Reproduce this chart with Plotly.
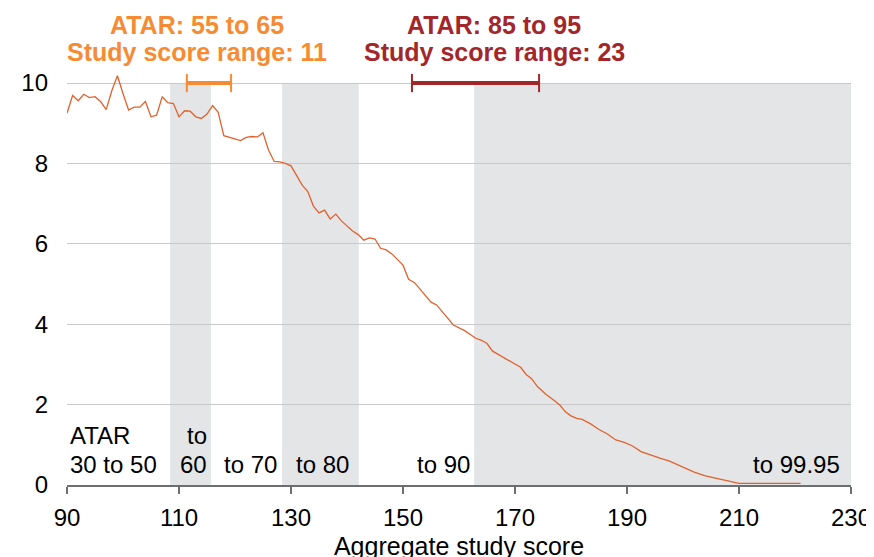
import plotly.graph_objects as go

# Aggregate study score (x) and value (y)
score = [90, 91, 92, 93, 94, 95, 96, 97, 98, 99, 100, 101, 102, 103, 104, 105, 106, 107, 108, 109,
         110, 111, 112, 113, 114, 115, 116, 117, 118, 119, 120, 121, 122, 123, 124, 125, 126, 127, 128, 129,
         130, 131, 132, 133, 134, 135, 136, 137, 138, 139, 140, 141, 142, 143, 144, 145, 146, 147, 148, 149,
         150, 151, 152, 153, 154, 155, 156, 157, 158, 159, 161, 163, 164, 165, 166, 167.5, 169.5, 171, 172, 173,
         174, 175.5, 177, 178, 179, 180, 181, 182, 183.5, 185, 186.5, 188, 189.5, 191, 192.5, 194, 196, 197.5,
         199.5, 202, 204, 205.5, 207, 209, 210, 221]
value = [9.25, 9.69, 9.56, 9.72, 9.64, 9.66, 9.54, 9.34, 9.81, 10.18, 9.74, 9.33, 9.40, 9.40, 9.54, 9.16, 9.20, 9.66, 9.51, 9.49,
         9.16, 9.31, 9.30, 9.16, 9.12, 9.23, 9.44, 9.27, 8.69, 8.65, 8.61, 8.57, 8.65, 8.67, 8.66, 8.76, 8.33, 8.05, 8.04, 8.00,
         7.94, 7.71, 7.46, 7.30, 6.94, 6.77, 6.84, 6.62, 6.74, 6.57, 6.45, 6.32, 6.23, 6.09, 6.15, 6.12, 5.89, 5.85, 5.75, 5.62,
         5.47, 5.12, 5.04, 4.88, 4.72, 4.55, 4.48, 4.32, 4.15, 3.98, 3.84, 3.65, 3.60, 3.52, 3.33, 3.21, 3.04, 2.93, 2.75, 2.64,
         2.45, 2.26, 2.10, 1.99, 1.82, 1.72, 1.66, 1.63, 1.52, 1.38, 1.27, 1.12, 1.06, 0.97, 0.83, 0.75, 0.66, 0.60,
         0.48, 0.32, 0.23, 0.18, 0.12, 0.07, 0.04, 0.04]

# Shaded ATAR bands (study score ranges)
band_start = [108.4, 128.4, 162.7]
band_end = [115.7, 142.1, 230]

# Range bars
orange_range = [111.4, 119.3]
red_range = [151.6, 174.3]
range_level = 10

# Bottom ATAR labels: (text, x edge, row)
atar_labels_left = [("ATAR", 90.2, 1), ("30 to 50", 90.2, 0)]
atar_labels_right = [("to", 115.4, 1), ("60", 115.4, 0), ("to 70", 127.9, 0),
                     ("to 80", 140.7, 0), ("to 90", 162.3, 0), ("to 99.95", 228.4, 0)]
row_y = [0.52, 1.24]

# Top headline labels: (line1, line2, x centre, colour key)
headlines = [("ATAR: 55 to 65", "Study score range: 11", 113.3, "orange"),
             ("ATAR: 85 to 95", "Study score range: 23", 166.3, "red")]

x_ticks = [90, 110, 130, 150, 170, 190, 210, 230]
y_ticks = [0, 2, 4, 6, 8, 10]

ORANGE = "#F68B33"
RED = "#A3262A"
LINE = "#E0622E"
BAND = "#E4E5E7"
FONT = "Liberation Sans, Arial, sans-serif"
FS = 24

fig = go.Figure()

fig.add_trace(go.Scatter(x=score, y=value, mode="lines",
                         line=dict(color=LINE, width=1.3), hoverinfo="skip", showlegend=False))

for rng, col in [(orange_range, ORANGE), (red_range, RED)]:
    fig.add_trace(go.Scatter(x=rng, y=[range_level, range_level], mode="lines+markers",
                             line=dict(color=col, width=4),
                             marker=dict(symbol="line-ns", size=13, line=dict(color=col, width=2)),
                             cliponaxis=False, showlegend=False, hoverinfo="skip"))

shapes = []
for a, b in zip(band_start, band_end):
    shapes.append(dict(type="rect", xref="x", yref="y", x0=a, x1=b, y0=0, y1=10,
                       fillcolor=BAND, line=dict(width=0), layer="below"))

annotations = []
for t, x, r in atar_labels_left:
    annotations.append(dict(text=t, x=x, y=row_y[r], xref="x", yref="y", xanchor="left",
                            yanchor="middle", showarrow=False, font=dict(size=FS, color="black", family=FONT)))
for t, x, r in atar_labels_right:
    annotations.append(dict(text=t, x=x, y=row_y[r], xref="x", yref="y", xanchor="right",
                            yanchor="middle", showarrow=False, font=dict(size=FS, color="black", family=FONT)))

colours = {"orange": ORANGE, "red": RED}
for l1, l2, xc, ck in headlines:
    for txt, py in [(l1, 1.111), (l2, 1.046)]:
        annotations.append(dict(text="<b>" + txt + "</b>", x=xc, y=py, xref="x", yref="paper",
                                xanchor="center", yanchor="middle", showarrow=False,
                                font=dict(size=25, color=colours[ck], family=FONT)))

fig.update_layout(
    width=874, height=557,
    margin=dict(l=59, r=31, t=63, b=80, autoexpand=False),
    paper_bgcolor="white", plot_bgcolor="white",
    font=dict(family=FONT, size=FS, color="black"),
    shapes=shapes, annotations=annotations,
    xaxis=dict(range=[90, 230], tickvals=x_ticks, showgrid=False, zeroline=False, automargin=False,
               showline=True, linecolor="#6E6E6E", linewidth=2,
               ticks="outside", ticklen=7, tickcolor="#6E6E6E", tickwidth=1.5,
               tickfont=dict(size=FS), ticklabelstandoff=3,
               title=dict(text="Aggregate study score", font=dict(size=25), standoff=8)),
    yaxis=dict(range=[0, 10.3], tickvals=y_ticks, showgrid=True, gridcolor="#C8C8C8", gridwidth=1,
               zeroline=False, showline=False, ticks="", automargin=False,
               tickfont=dict(size=FS), ticklabelstandoff=18),
)

fig.write_html("out.html")
